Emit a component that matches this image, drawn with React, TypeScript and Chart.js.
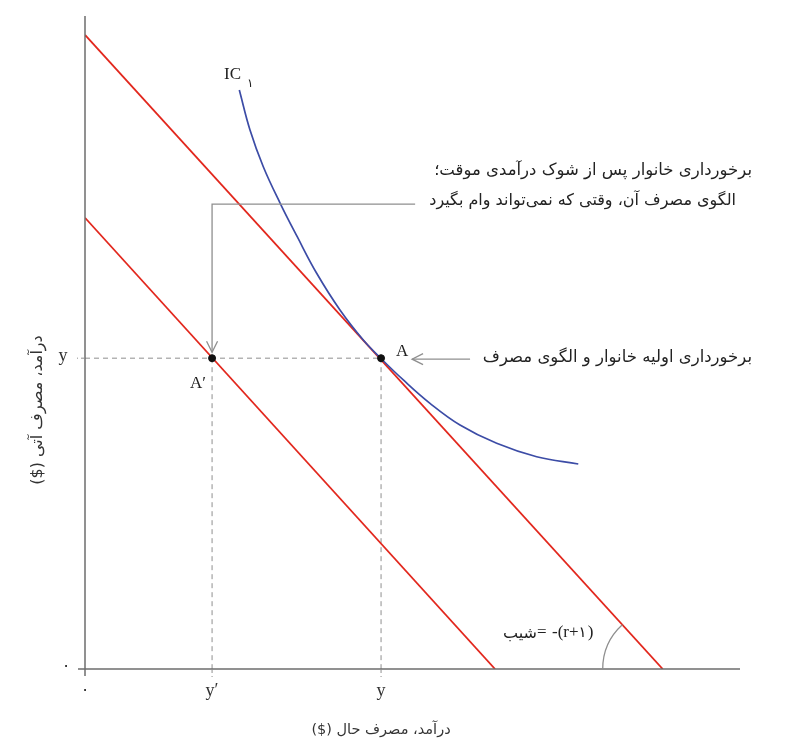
import { useEffect, useRef } from "react";
import { Chart, registerables } from "chart.js";

Chart.register(...registerables);

// both axes run 0..100 in data units
const xTickValues = [0, 19.4, 45.2];
const xTickLabels = ["۰", "y′", "y"];
const yTickValues = [0, 47.6];
const yTickLabels = ["۰", "y"];

const pointA = { x: 45.2, y: 47.6 };
const pointA2 = { x: 19.4, y: 47.6 };

const budgetUpper = [{ x: 0, y: 97.1 }, { x: 88.2, y: 0 }];
const budgetLower = [{ x: 0, y: 69.1 }, { x: 62.6, y: 0 }];

const icX = [23.56, 25.19, 27.22, 29.8, 32.4, 35.37, 38.93, 42.49, 45.19, 48.6, 52.67, 57.25, 62.85, 68.96, 75.31];
const icY = [88.67, 82.54, 76.92, 71.32, 66.2, 60.6, 54.98, 50.38, 47.55, 44.26, 40.69, 37.37, 34.56, 32.51, 31.39];

const callout = { x: 50.4, y: 71.2 };

const RED = "#e2271d";
const BLUE = "#3c4ca6";
const AXIS = "#6e6e6e";
const GUIDE = "#8f8f8f";
const SERIF = "'Liberation Serif', serif";
const FA = "'DejaVu Sans', sans-serif";

const titleX = "درآمد، مصرف حال ($)";
const titleY = "درآمد، مصرف آتی ($)";
const noteShock1 = "برخورداری خانوار پس از شوک درآمدی موقت؛";
const noteShock2 = "الگوی مصرف آن، وقتی که نمی‌تواند وام بگیرد";
const noteInitial = "برخورداری اولیه خانوار و الگوی مصرف";

function arrowHead(ctx: CanvasRenderingContext2D, x: number, y: number, dx: number, dy: number) {
  // open V head, tip at (x,y), pointing along (dx,dy)
  const len = 11, w = 5.5;
  const bx = x - dx * len, by = y - dy * len;
  ctx.beginPath();
  ctx.moveTo(bx - dy * w, by + dx * w);
  ctx.lineTo(x, y);
  ctx.lineTo(bx + dy * w, by - dx * w);
  ctx.stroke();
}

const decorations = {
  id: "decorations",
  afterDatasetsDraw(chart: Chart) {
    const ctx = chart.ctx;
    const xs = chart.scales.x;
    const ys = chart.scales.y;
    const area = chart.chartArea;
    const X = (v: number) => xs.getPixelForValue(v);
    const Y = (v: number) => ys.getPixelForValue(v);
    const x0 = X(0), y0 = Y(0);

    ctx.save();
    // axes
    ctx.strokeStyle = AXIS;
    ctx.lineWidth = 1.5;
    ctx.beginPath();
    ctx.moveTo(x0, area.top);
    ctx.lineTo(x0, y0 + 7);
    ctx.moveTo(x0 - 7, y0);
    ctx.lineTo(area.right, y0);
    ctx.stroke();

    // tick marks below / left of the axes
    ctx.lineWidth = 1;
    ctx.strokeStyle = GUIDE;
    ctx.setLineDash([4, 3]);
    ctx.beginPath();
    xTickValues.slice(1).forEach((v) => {
      ctx.moveTo(X(v), y0);
      ctx.lineTo(X(v), y0 + 8);
    });
    yTickValues.slice(1).forEach((v) => {
      ctx.moveTo(x0, Y(v));
      ctx.lineTo(x0 - 8, Y(v));
    });
    ctx.stroke();
    ctx.setLineDash([]);

    // tick labels
    ctx.fillStyle = "#333";
    ctx.textAlign = "center";
    ctx.textBaseline = "middle";
    xTickValues.forEach((v, i) => {
      const lbl = xTickLabels[i];
      ctx.font = lbl === "۰" ? `17px ${FA}` : `18px ${SERIF}`;
      ctx.fillText(lbl, X(v), y0 + 22);
    });
    yTickValues.forEach((v, i) => {
      const lbl = yTickLabels[i];
      ctx.font = lbl === "۰" ? `17px ${FA}` : `18px ${SERIF}`;
      ctx.fillText(lbl, x0 - (lbl === "۰" ? 19 : 22), Y(v) - 2);
    });

    // axis titles
    ctx.direction = "rtl";
    ctx.font = `14.5px ${FA}`;
    ctx.fillText(titleX, 381, 730);
    ctx.save();
    ctx.translate(38, 410);
    ctx.rotate(-Math.PI / 2);
    ctx.font = `16px ${FA}`;
    ctx.fillText(titleY, 0, 0);
    ctx.restore();

    // point labels
    ctx.direction = "ltr";
    ctx.font = `17px ${SERIF}`;
    ctx.fillStyle = "#222";
    ctx.fillText("A", X(pointA.x) + 21, Y(pointA.y) - 7);
    ctx.fillText("A′", X(pointA2.x) - 14, Y(pointA2.y) + 25);
    ctx.textAlign = "left";
    ctx.fillText("IC", 224, 75);
    ctx.font = `12px ${FA}`;
    ctx.fillText("۱", 247, 84);

    // arrow into A
    ctx.strokeStyle = GUIDE;
    ctx.lineWidth = 1.3;
    const ax = X(pointA.x) + 31, ay = Y(pointA.y) + 1;
    ctx.beginPath();
    ctx.moveTo(ax + 58, ay);
    ctx.lineTo(ax, ay);
    ctx.stroke();
    arrowHead(ctx, ax, ay, -1, 0);

    // callout into A'
    const cx = X(pointA2.x), cy = Y(callout.y);
    ctx.beginPath();
    ctx.moveTo(X(callout.x), cy);
    ctx.lineTo(cx, cy);
    ctx.lineTo(cx, Y(pointA2.y) - 6);
    ctx.stroke();
    arrowHead(ctx, cx, Y(pointA2.y) - 6, 0, 1);

    // slope angle marker at the upper line's x-intercept
    const ix = X(budgetUpper[1].x), iy = Y(budgetUpper[1].y);
    const ang = Math.atan2(Y(budgetUpper[0].y) - iy, X(budgetUpper[0].x) - ix);
    ctx.beginPath();
    ctx.arc(ix, iy, 60, Math.PI, ang + 2 * Math.PI);
    ctx.stroke();

    // notes
    ctx.fillStyle = "#222";
    ctx.textBaseline = "middle";
    ctx.direction = "rtl";
    ctx.textAlign = "right";
    ctx.font = `16.5px ${FA}`;
    ctx.fillText(noteShock1, 752, 171);
    ctx.fillText(noteInitial, 752, 358);
    ctx.font = `16px ${FA}`;
    ctx.fillText(noteShock2, 736, 201);

    // slope label
    ctx.font = `16px ${FA}`;
    ctx.fillText("شیب", 537, 634);
    ctx.direction = "ltr";
    ctx.textAlign = "left";
    ctx.font = `17px ${SERIF}`;
    ctx.fillText("=", 537, 633);
    ctx.fillText("-(r+", 552, 633);
    const w = ctx.measureText("-(r+").width;
    ctx.font = `15px ${FA}`;
    ctx.fillText("۱", 552 + w, 633);
    const w2 = ctx.measureText("۱").width;
    ctx.font = `17px ${SERIF}`;
    ctx.fillText(")", 552 + w + w2 + 1, 633);
    ctx.restore();
  },
};

export default function App() {
  const canvasRef = useRef<HTMLCanvasElement>(null);
  const chartRef = useRef<Chart | null>(null);

  useEffect(() => {
    if (!canvasRef.current) return;
    if (chartRef.current) chartRef.current.destroy();
    const ctx = canvasRef.current.getContext("2d");
    if (!ctx) return;

    const dashed = {
      borderColor: GUIDE,
      borderWidth: 1,
      borderDash: [5, 4],
      pointRadius: 0,
      showLine: true,
      fill: false,
    };

    chartRef.current = new Chart(ctx, {
      type: "scatter",
      data: {
        datasets: [
          {
            data: [pointA, pointA2],
            backgroundColor: "#111",
            borderColor: "#111",
            pointRadius: 3.5,
            showLine: false,
          },
          {
            data: icX.map((x, i) => ({ x, y: icY[i] })),
            borderColor: BLUE,
            borderWidth: 1.7,
            pointRadius: 0,
            showLine: true,
            tension: 0.4,
          },
          {
            data: budgetUpper,
            borderColor: RED,
            borderWidth: 1.8,
            pointRadius: 0,
            showLine: true,
          },
          {
            data: budgetLower,
            borderColor: RED,
            borderWidth: 1.8,
            pointRadius: 0,
            showLine: true,
          },
          { ...dashed, data: [{ x: 0, y: pointA.y }, pointA] },
          { ...dashed, data: [pointA2, { x: pointA2.x, y: 0 }] },
          { ...dashed, data: [pointA, { x: pointA.x, y: 0 }] },
        ],
      },
      options: {
        responsive: false,
        animation: false,
        layout: { padding: { left: 85, top: 16, right: 70, bottom: 87 } },
        plugins: { legend: { display: false }, tooltip: { enabled: false } },
        scales: {
          x: { type: "linear", min: 0, max: 100, display: false },
          y: { type: "linear", min: 0, max: 100, display: false },
        },
      },
      plugins: [decorations],
    } as any);

    return () => {
      if (chartRef.current) {
        chartRef.current.destroy();
        chartRef.current = null;
      }
    };
  }, []);

  return (
    <div style={{ position: "absolute", left: 0, top: 0, width: 810, height: 756, background: "#fff" }}>
      <canvas ref={canvasRef} width={810} height={756} style={{ width: 810, height: 756 }} />
    </div>
  );
}
